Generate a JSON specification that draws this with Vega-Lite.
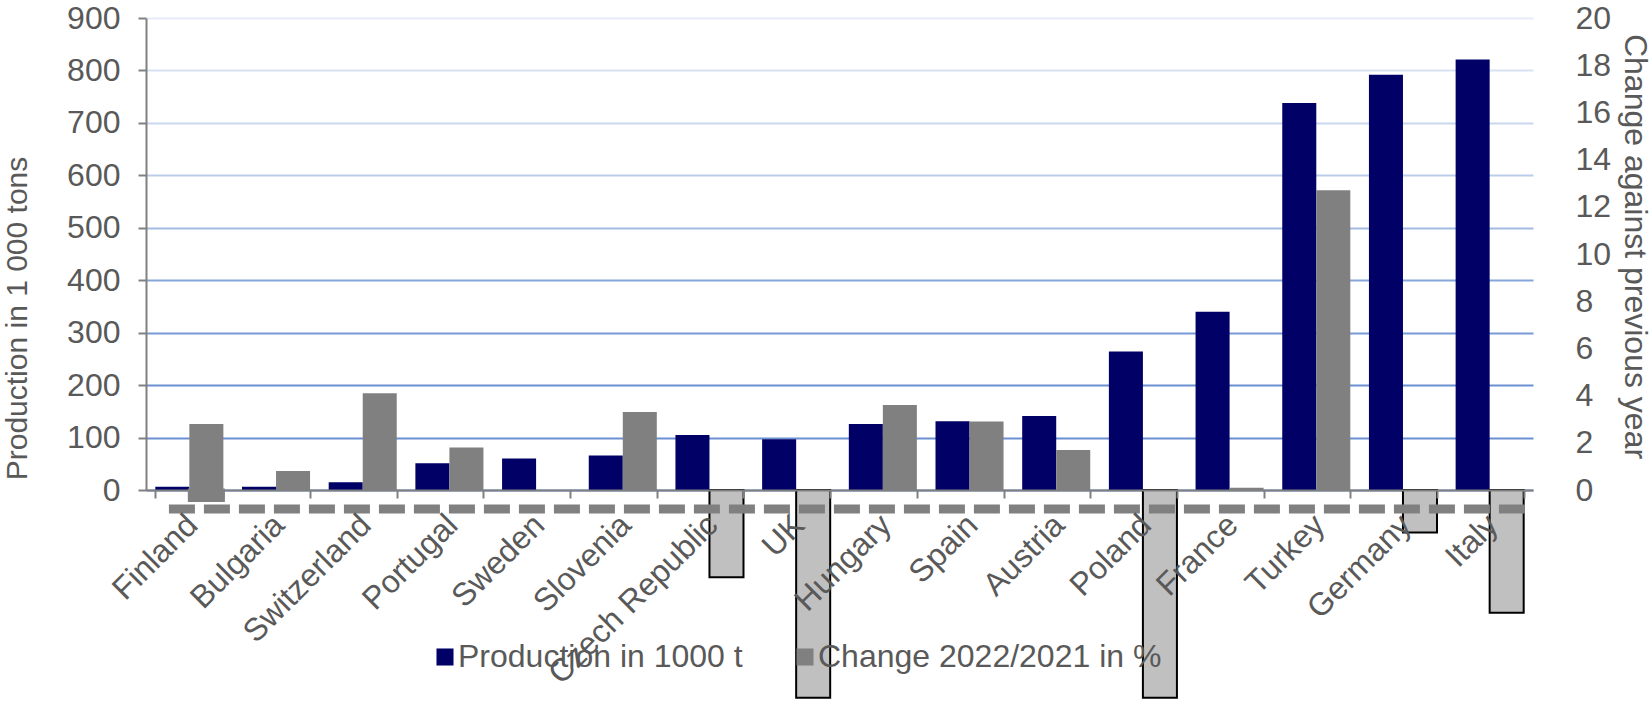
{
  "$schema": "https://vega.github.io/schema/vega-lite/v6.json",
  "width": 1387,
  "height": 472,
  "autosize": {"type": "none"},
  "padding": {"left": 146, "top": 18, "right": 119, "bottom": 212},
  "config": {
    "font": "Liberation Sans",
    "view": {"stroke": null},
    "axis": {"labelFont": "Liberation Sans", "titleFont": "Liberation Sans"}
  },
  "data": {
    "values": [
      {"country": "Finland", "production": 6, "change": 2.8, "dip": -0.45},
      {"country": "Bulgaria", "production": 6, "change": 0.8},
      {"country": "Switzerland", "production": 15, "change": 4.1},
      {"country": "Portugal", "production": 51, "change": 1.8},
      {"country": "Sweden", "production": 60, "change": 0},
      {"country": "Slovenia", "production": 66, "change": 3.3},
      {"country": "Czech Republic", "production": 105, "change": -3.7},
      {"country": "UK", "production": 97, "change": -8.8},
      {"country": "Hungary", "production": 126, "change": 3.6},
      {"country": "Spain", "production": 131, "change": 2.9},
      {"country": "Austria", "production": 141, "change": 1.7},
      {"country": "Poland", "production": 264, "change": -8.8},
      {"country": "France", "production": 340, "change": 0.1},
      {"country": "Turkey", "production": 738, "change": 12.7},
      {"country": "Germany", "production": 792, "change": -1.8},
      {"country": "Italy", "production": 821, "change": -5.2}
    ]
  },
  "encoding": {
    "x": {
      "field": "country",
      "type": "nominal",
      "sort": null,
      "scale": {"paddingInner": 0.215, "paddingOuter": 0.1075},
      "axis": {
        "title": null,
        "zindex": 1,
        "labelAngle": -45,
        "labelAlign": "right",
        "labelBaseline": "top",
        "labelFontSize": 32,
        "labelColor": "#595959",
        "tickBand": "extent",
        "tickSize": 8,
        "tickColor": "#808080",
        "tickWidth": 2,
        "domainColor": "#808080",
        "domainWidth": 2,
        "labelPadding": 11,
        "labelOffset": -8,
        "labelOverlap": false,
        "labelBound": false,
        "labelLimit": 0,
        "grid": false
      }
    }
  },
  "layer": [
    {
      "mark": {"type": "bar"},
      "encoding": {
        "xOffset": {
          "datum": "Production in 1000 t",
          "scale": {"domain": ["Production in 1000 t", "Change 2022/2021 in %"], "paddingInner": 0, "paddingOuter": 0}
        },
        "y": {
          "field": "production",
          "type": "quantitative",
          "scale": {"domain": [0, 900], "nice": false},
          "axis": {
            "title": "Production in 1 000 tons",
            "values": [0, 100, 200, 300, 400, 500, 600, 700, 800, 900],
            "labelFontSize": 32,
            "labelColor": "#595959",
            "labelPadding": 18,
            "titleFontSize": 30,
            "titleFontWeight": "normal",
            "titleColor": "#595959",
            "titleAngle": -90,
            "titleX": -120,
            "titleY": 300,
            "titleAlign": "center",
            "titleBaseline": "alphabetic",
            "domainColor": "#808080",
            "domainWidth": 2,
            "tickColor": "#808080",
            "tickSize": 8,
            "tickWidth": 2,
            "grid": true,
            "gridWidth": 2,
            "gridColor": {
              "condition": [
                {"test": "datum.value <= 200", "value": "#6b90d1"},
                {"test": "datum.value <= 300", "value": "#789ad6"},
                {"test": "datum.value <= 400", "value": "#86a5da"},
                {"test": "datum.value <= 500", "value": "#a3bae3"},
                {"test": "datum.value <= 600", "value": "#bccde9"},
                {"test": "datum.value <= 700", "value": "#cad8ef"},
                {"test": "datum.value <= 800", "value": "#d8e2f3"}
              ],
              "value": "#e6ecf7"
            }
          }
        },
        "color": {
          "datum": "Production in 1000 t",
          "scale": {"domain": ["Production in 1000 t", "Change 2022/2021 in %"], "range": ["#000066", "#808080"]},
          "legend": {
            "orient": "none",
            "legendX": 283,
            "legendY": 623,
            "direction": "horizontal",
            "title": null,
            "symbolType": "square",
            "symbolSize": 290,
            "symbolStrokeWidth": 0,
            "labelFontSize": 32,
            "labelColor": "#595959",
            "labelOffset": -3,
            "columnPadding": 46,
            "labelLimit": 0
          }
        }
      }
    },
    {
      "layer": [
        {
          "transform": [{"filter": "datum.change > 0"}],
          "mark": {"type": "bar"},
          "encoding": {
            "xOffset": {"datum": "Change 2022/2021 in %"},
            "y": {
              "field": "change",
              "type": "quantitative",
              "scale": {"domain": [0, 20], "nice": false},
              "axis": {
                "orient": "right",
                "title": "Change against previous year",
                "values": [0, 2, 4, 6, 8, 10, 12, 14, 16, 18, 20],
                "ticks": false,
                "tickSize": 0,
                "domain": false,
                "grid": false,
                "labelFontSize": 32,
                "labelColor": "#595959",
                "labelPadding": 42,
                "labelAlign": "left",
                "titleFontSize": 32,
                "titleFontWeight": "normal",
                "titleColor": "#595959",
                "titleAngle": 90,
                "titleX": 91,
                "titleY": 228,
                "titleAlign": "center",
                "titleBaseline": "alphabetic"
              }
            },
            "color": {"datum": "Change 2022/2021 in %"}
          }
        },
        {
          "transform": [{"filter": "datum.dip < 0"}],
          "mark": {"type": "bar", "fill": "#808080", "stroke": "#808080", "strokeWidth": 3},
          "encoding": {
            "xOffset": {"datum": "Change 2022/2021 in %"},
            "y": {"field": "dip", "type": "quantitative"}
          }
        },
        {
          "transform": [{"filter": "datum.change < 0"}],
          "mark": {"type": "bar", "fill": "#c0c0c0", "stroke": "#000000", "strokeWidth": 2},
          "encoding": {
            "xOffset": {"datum": "Change 2022/2021 in %"},
            "y": {"field": "change", "type": "quantitative"}
          }
        },
        {
          "transform": [{"filter": "datum.country === 'Finland'"}],
          "mark": {"type": "rule", "color": "#808080", "strokeWidth": 9, "strokeDash": [26, 9]},
          "encoding": {
            "y": {"datum": -0.8},
            "x": {"datum": "Finland", "bandPosition": 0.2},
            "x2": {"datum": "Italy", "bandPosition": 1.08}
          }
        }
      ]
    }
  ],
  "resolve": {"scale": {"y": "independent"}}
}
